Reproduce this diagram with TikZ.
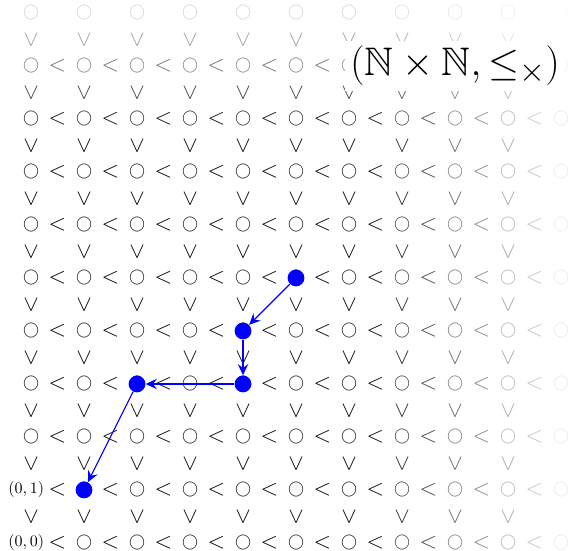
\documentclass[tikz,border=0pt]{standalone}
\usepackage{amsmath,amssymb}
\usepackage{tikz}
\usetikzlibrary{arrows.meta}

\begin{document}
\begin{tikzpicture}[
    x=1.164cm, y=1.164cm,
    circ/.style={inner sep=0pt, text=black!#1},
    lessh/.style={font=\Large, inner sep=0pt, text=black!#1},
    lessv/.style={lessh=#1, rotate=90},
    pathdot/.style={circle, fill=blue, inner sep=0pt, minimum size=10.5pt},
    arrow/.style={-{Stealth[length=7pt, width=6.5pt, inset=2.5pt]}, line width=0.7pt, blue},
    titlebox/.style={fill=white},
  ]
  \useasboundingbox (-0.585,-0.151) rectangle (10.132,10.245);

  % ---- grid points, fading out to the top and right ----
  \foreach \i in {0,...,10} {
    \foreach \j in {0,...,10} {
      \pgfmathtruncatemacro{\tone}{round(100*min(1,2.6-0.25*\i)*min(1,3.95-0.375*\j))}
      \ifnum\numexpr20*\i+\j\relax>1
        \node[circ=\tone] (c-\i-\j) at (\i,\j) {$\bigcirc$};
      \fi
    }
  }

  % ---- order relations ----
  \foreach \i in {0,...,9} {
    \foreach \j in {0,...,9} {
      \pgfmathtruncatemacro{\tone}{round(100*min(1,2.6-0.25*(\i+0.5))*min(1,3.95-0.375*\j))}
      \node[lessh=\tone] (h-\i-\j) at (\i+0.5,\j) {$<$};
      \pgfmathtruncatemacro{\tone}{round(100*min(1,2.6-0.25*\i)*min(1,3.95-0.375*(\j+0.5)))}
      \node[lessv=\tone] (v-\i-\j) at (\i,\j+0.5) {$<$};
    }
  }

  % ---- corner labels ----
  \node (zero) at (-0.09,0) {$(0,0)$};
  \node (one) at (-0.09,1) {$(0,1)$};

  % ---- title ----
  \node[titlebox] (title) at (8,9) {\Huge $(\mathbb{N}\times\mathbb{N},\leq_\times)$};

  % ---- descending chain ----
  \node[pathdot] (p1) at (5,5) {};
  \node[pathdot] (p2) at (4,4) {};
  \node[pathdot] (p3) at (4,3) {};
  \node[pathdot] (p4) at (2,3) {};
  \node[pathdot] (p5) at (1,1) {};

  \draw[arrow] (p1) -- (p2);
  \draw[arrow] (p2) -- (p3);
  \draw[arrow] (p3) -- (p4);
  \draw[arrow] (p4) -- (p5);

\end{tikzpicture}
\end{document}
